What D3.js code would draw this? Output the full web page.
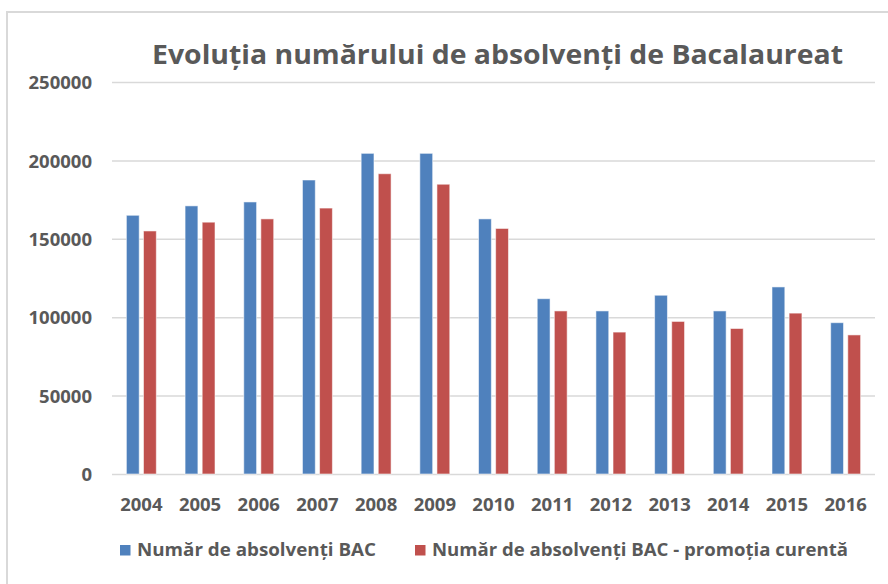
<!DOCTYPE html>
<html>
<head>
<meta charset="utf-8">
<script src="https://cdn.jsdelivr.net/npm/d3@7"></script>
<style>
  body { margin: 0; background: #fff; }
  text { font-family: "Open Sans", "Noto Sans", sans-serif; font-weight: bold; fill: #595959; }
</style>
</head>
<body>
<div id="chart"></div>
<script>
// Data
const years = ["2004", "2005", "2006", "2007", "2008", "2009", "2010", "2011", "2012", "2013", "2014", "2015", "2016"];
const absolventi = [165000, 171000, 173500, 187500, 204500, 204500, 162700, 111800, 104000, 114000, 104000, 119300, 96500];
const promotiaCurenta = [155000, 160600, 162700, 169600, 191500, 184800, 156600, 104000, 90500, 97300, 92800, 102600, 88700];
const seriesNames = ["Număr de absolvenți BAC", "Număr de absolvenți BAC - promoția curentă"];
const seriesColors = ["#4f81bd", "#c0504d"];
const yTicks = [0, 50000, 100000, 150000, 200000, 250000];

const W = 888, H = 584;
const plot = { left: 112, right: 875, top: 82, bottom: 474 };

const svg = d3.select("#chart")
    .append("svg")
    .attr("width", W)
    .attr("height", H);

// chart frame (right and bottom edges fall outside the picture)
svg.append("rect")
    .attr("x", 7).attr("y", 12)
    .attr("width", 950).attr("height", 650)
    .attr("fill", "none")
    .attr("stroke", "#d9d9d9")
    .attr("stroke-width", 2);

// Scales
const x = d3.scaleBand()
    .domain(years)
    .range([plot.left, plot.right])
    .paddingInner(0.49)
    .paddingOuter(0.245);

const xSub = d3.scaleBand()
    .domain([0, 1])
    .range([0, x.bandwidth()])
    .paddingInner(0.25);

const y = d3.scaleLinear()
    .domain([0, 250000])
    .range([plot.bottom, plot.top]);

// y axis with gridlines
const yAxis = svg.append("g")
    .attr("transform", `translate(${plot.left},0)`)
    .call(d3.axisLeft(y).tickValues(yTicks).tickSize(-(plot.right - plot.left)).tickPadding(20).tickFormat(d3.format("d")));
yAxis.select(".domain").remove();
yAxis.selectAll(".tick line").attr("stroke", "#d9d9d9").attr("stroke-width", 1.5);
yAxis.selectAll(".tick text")
    .style("font-size", "18.5px")
    .attr("dy", "0.36em");

// Bars
const data = years.map((yr, i) => ({ year: yr, values: [absolventi[i], promotiaCurenta[i]] }));

const groups = svg.selectAll(".year")
    .data(data)
    .enter().append("g")
    .attr("class", "year")
    .attr("transform", d => `translate(${x(d.year)},0)`);

groups.selectAll("rect")
    .data(d => d.values.map((v, s) => ({ v, s })))
    .enter().append("rect")
    .attr("x", d => xSub(d.s))
    .attr("y", d => y(d.v))
    .attr("width", xSub.bandwidth())
    .attr("height", d => y(0) - y(d.v))
    .attr("fill", d => seriesColors[d.s])
    .attr("stroke", "rgba(255,255,255,0.55)")
    .attr("stroke-width", 1);

// x axis labels
const xAxis = svg.append("g")
    .attr("transform", `translate(0,${plot.bottom})`)
    .call(d3.axisBottom(x).tickSize(0).tickPadding(0));
xAxis.select(".domain").remove();
xAxis.selectAll(".tick text")
    .style("font-size", "18.5px")
    .attr("y", 36.5)
    .attr("dy", 0);

// Title
svg.append("text")
    .attr("x", 152)
    .attr("y", 63.5)
    .attr("textLength", 691)
    .attr("lengthAdjust", "spacingAndGlyphs")
    .style("font-size", "27px")
    .text("Evoluția numărului de absolvenți de Bacalaureat");

// Legend
const legendItems = [
    { x: 120, textX: 137, textW: 239 },
    { x: 415, textX: 432, textW: 416 }
];
const legend = svg.selectAll(".legend")
    .data(seriesNames)
    .enter().append("g")
    .attr("class", "legend");

legend.append("rect")
    .attr("x", (d, i) => legendItems[i].x)
    .attr("y", 545)
    .attr("width", 10.5)
    .attr("height", 10.5)
    .attr("fill", (d, i) => seriesColors[i]);

legend.append("text")
    .attr("x", (d, i) => legendItems[i].textX)
    .attr("y", 556)
    .attr("textLength", (d, i) => legendItems[i].textW)
    .attr("lengthAdjust", "spacingAndGlyphs")
    .style("font-size", "17.5px")
    .text(d => d);
</script>
</body>
</html>
